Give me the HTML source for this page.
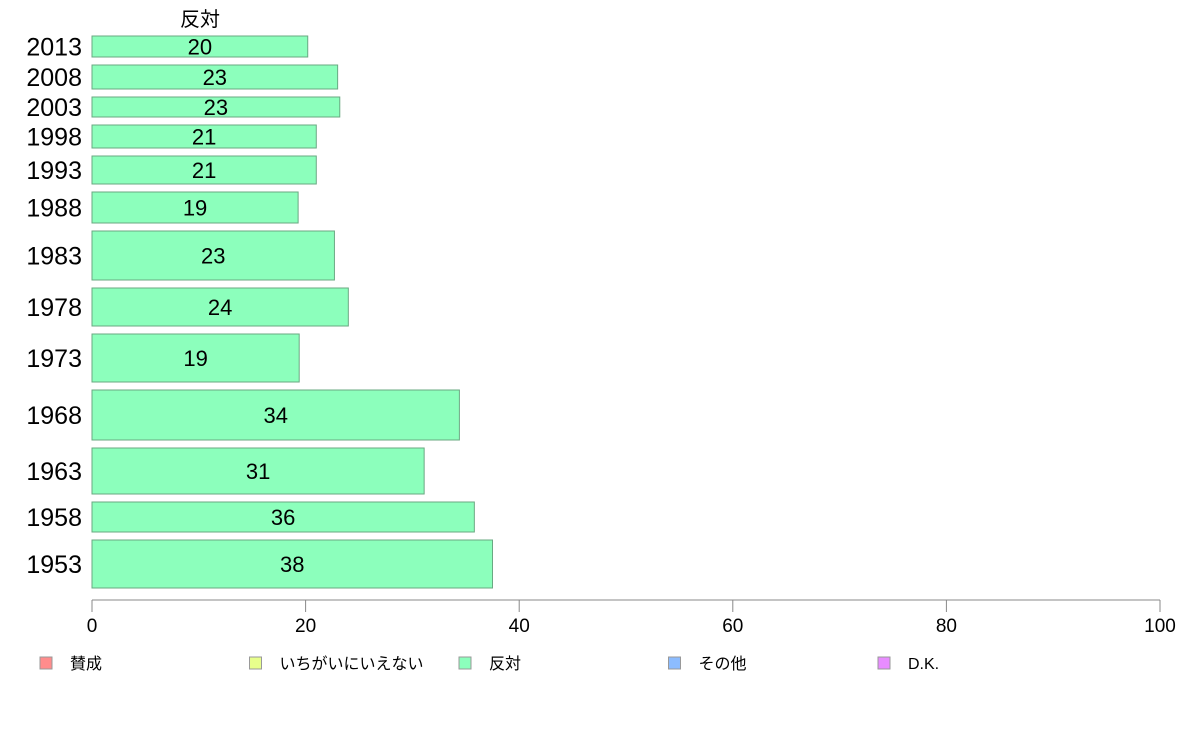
<!DOCTYPE html>
<html><head><meta charset="utf-8">
<style>
html,body{margin:0;padding:0;background:#fff;}
svg{display:block;font-family:"Liberation Sans","Noto Sans CJK JP",sans-serif;}
</style></head>
<body>
<svg id="chart" width="1188" height="736" viewBox="0 0 1188 736"></svg>
<script>
const years = ["2013","2008","2003","1998","1993","1988","1983","1978","1973","1968","1963","1958","1953"];
const opposeValues = [20.2,23.0,23.2,21.0,21.0,19.3,22.7,24.0,19.4,34.4,31.1,35.8,37.5];
const valueLabels = ["20","23","23","21","21","19","23","24","19","34","31","36","38"];
const sampleWeights = [21,24,20,23,28,31,49,38,48,50,46,30,48];
const xTicks = [0,20,40,60,80,100];
const legendLabels = ["賛成","いちがいにいえない","反対","その他","D.K."];
const legendColors = ["#ff8c8c","#e8ff8c","#8cffbc","#8cbcff","#e88cff"];

const NS="http://www.w3.org/2000/svg";
const svg=document.getElementById('chart');
const x0=92,x1=1160,yTop=36,yBot=588,gap=8;
const xScale=v=>x0+(x1-x0)*v/100;
function mk(tag,attrs,text){const e=document.createElementNS(NS,tag);for(const k in attrs)e.setAttribute(k,attrs[k]);if(text!==undefined)e.textContent=text;svg.appendChild(e);return e;}

const t=mk('text',{x:200,y:26,'font-size':20,'text-anchor':'middle',fill:'#000'},'反対');



const totalW=sampleWeights.reduce((a,b)=>a+b,0);
const unit=(yBot-yTop-gap*(years.length-1))/totalW;
let y=yTop;
years.forEach((yr,i)=>{
  const h=sampleWeights[i]*unit;
  const r=mk('rect',{x:x0,y:y,width:xScale(opposeValues[i])-x0,height:h,fill:'#8cffbc',stroke:'#6aa882','stroke-width':1});
  
  
  const vl=mk('text',{x:(x0+xScale(opposeValues[i]))/2,y:y+h/2+8,'font-size':22,'text-anchor':'middle',fill:'#000'},valueLabels[i]);
  
  
  const yl=mk('text',{x:82,y:y+h/2+9,'font-size':25,'text-anchor':'end',fill:'#000'},yr);
  
  
  y+=h+gap;
});

const ax=mk('line',{x1:x0,y1:600,x2:x1,y2:600,stroke:'#888','stroke-width':1});


xTicks.forEach(v=>{
  const tk=mk('line',{x1:xScale(v),y1:600,x2:xScale(v),y2:612,stroke:'#888','stroke-width':1});
  
  
  const tl=mk('text',{x:xScale(v),y:632,'font-size':19,'text-anchor':'middle',fill:'#000'},String(v));
  
  
});

legendLabels.forEach((lab,i)=>{
  const lx=40+i*209.5;
  const sq=mk('rect',{x:lx,y:657,width:12,height:12,fill:legendColors[i],stroke:'#999','stroke-width':1});
  
  
  const lt=mk('text',{x:lx+30,y:669,'font-size':16,fill:'#000'},lab);
  
  
});
</script>
</body></html>
